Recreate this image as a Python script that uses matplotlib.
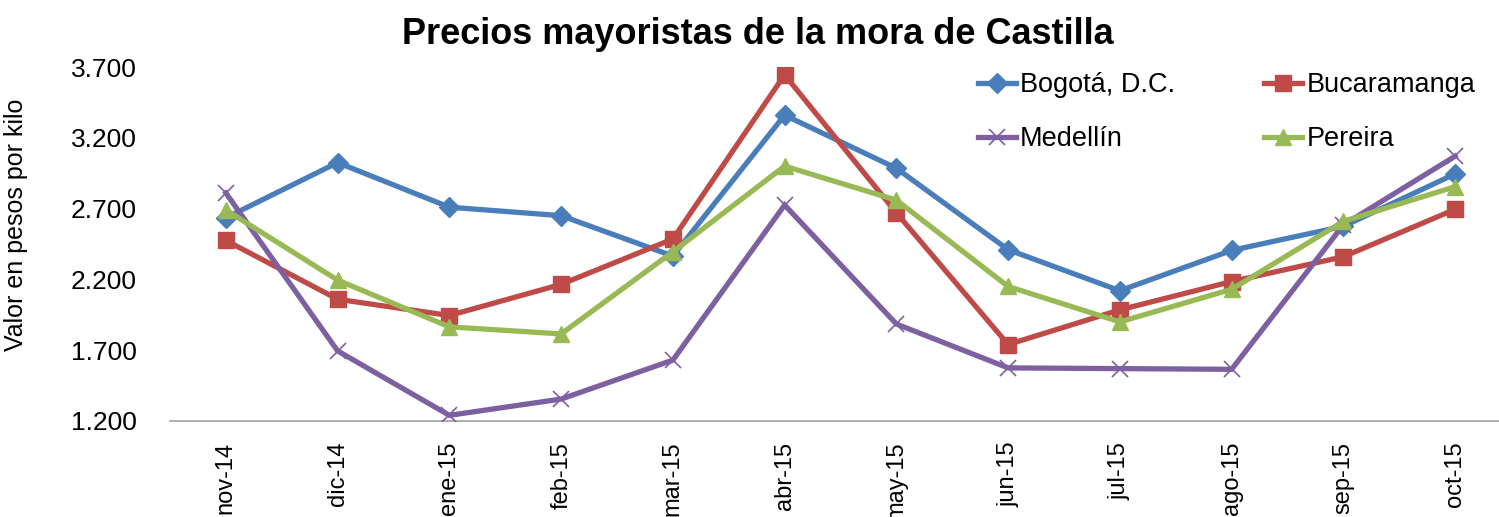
import matplotlib
matplotlib.use("Agg")
import matplotlib.pyplot as plt
from matplotlib.ticker import FuncFormatter

months = ["nov-14", "dic-14", "ene-15", "feb-15", "mar-15", "abr-15",
          "may-15", "jun-15", "jul-15", "ago-15", "sep-15", "oct-15"]
bogota = [2635, 3025, 2710, 2650, 2365, 3360, 2985, 2410, 2120, 2405, 2575, 2945]
bucaramanga = [2475, 2060, 1945, 2165, 2485, 3645, 2670, 1740, 1985, 2185, 2360, 2695]
medellin = [2810, 1695, 1240, 1355, 1630, 2725, 1885, 1575, 1570, 1565, 2585, 3070]
pereira = [2690, 2195, 1865, 1815, 2395, 3000, 2760, 2150, 1900, 2130, 2610, 2855]
y_ticks = [1200, 1700, 2200, 2700, 3200, 3700]

title = "Precios mayoristas de la mora de Castilla"
ylabel = "Valor en pesos por kilo"

plt.rcParams['font.family'] = ['Liberation Sans', 'DejaVu Sans']

fig = plt.figure(figsize=(14.99, 5.17), dpi=100)
ax = fig.add_axes([170 / 1499, 96 / 517, 1341 / 1499, 354 / 517])

x = list(range(len(months)))
series = [
    ("Bogotá, D.C.", bogota, "#4A7EBB", "D", 10, dict()),
    ("Bucaramanga", bucaramanga, "#BE4B48", "s", 11.5, dict()),
    ("Medellín", medellin, "#7D60A0", "x", 11, dict(markeredgewidth=1.2)),
    ("Pereira", pereira, "#98B954", "^", 12, dict()),
]
handles = []
for name, vals, col, mk, ms, extra in series:
    h, = ax.plot(x, vals, color=col, lw=3.8, marker=mk, markersize=ms,
                 markerfacecolor=col, markeredgecolor=col, label=name,
                 solid_joinstyle='miter', **extra)
    handles.append(h)

ax.set_xlim(-0.5, len(months) - 0.5)
ax.set_ylim(1200, 3700)
ax.set_yticks(y_ticks)
ax.yaxis.set_major_formatter(FuncFormatter(lambda v, p: f"{int(v):,}".replace(",", ".")))
ax.set_xticks(x)
ax.set_xticklabels(months, rotation=90, fontsize=17)
ax.tick_params(axis='x', length=0, pad=15)
ax.tick_params(axis='y', length=0, pad=24, labelsize=19)

for s in ["left", "right", "top"]:
    ax.spines[s].set_visible(False)
ax.spines["bottom"].set_color("#A0A0A0")
ax.spines["bottom"].set_linewidth(1.2)
ax.spines["bottom"].set_zorder(0)

ax.set_ylabel(ylabel, fontsize=18)
ax.yaxis.set_label_coords(-0.106, 0.554)

fig.text(758 / 1499, 1 - 34 / 517, title, ha="center", va="center",
         fontsize=26, fontweight="bold")

# row-wise order: Bogotá, Bucaramanga / Medellín, Pereira
leg_handles = [handles[0], handles[2], handles[1], handles[3]]
fig.legend(handles=leg_handles, loc="upper left", bbox_to_anchor=(978 / 1499, 1 - 72 / 517),
           ncol=2, frameon=False, fontsize=19.5, borderpad=0, borderaxespad=0,
           handlelength=1.4, handletextpad=0.15, columnspacing=3.3,
           labelspacing=1.05)

fig.savefig("out.png", dpi=100)
